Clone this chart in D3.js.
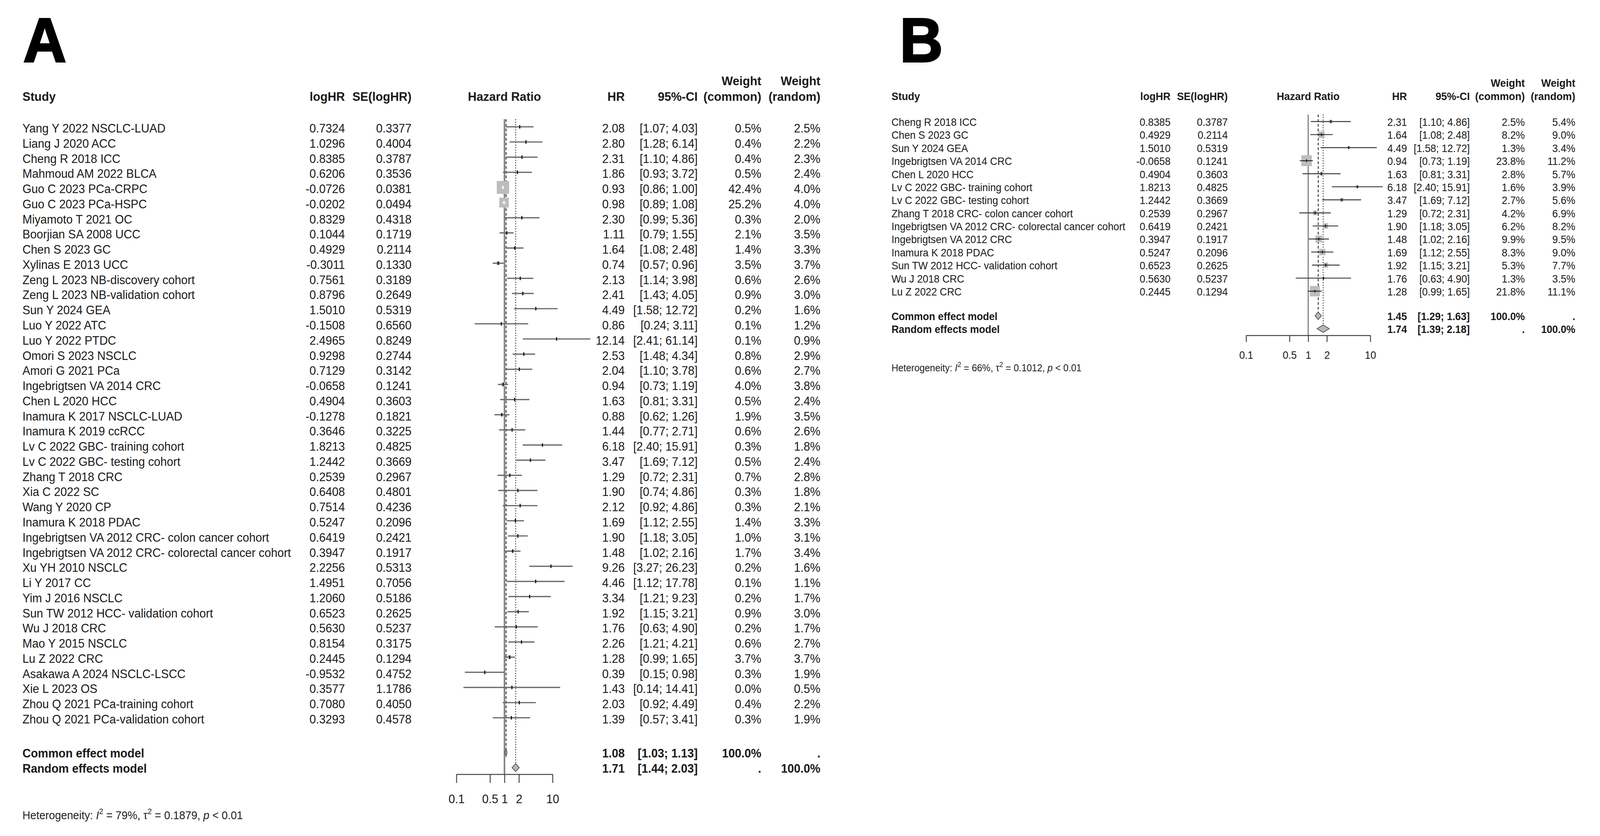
<!DOCTYPE html>
<html>
<head>
<meta charset="utf-8">
<script src="https://cdn.jsdelivr.net/npm/d3@7"></script>
<style>
  html, body { margin: 0; padding: 0; background: #fff; overflow: hidden; }
  #chart { display: block; width: 100vw; height: 100vh; }
  text { font-family: "Liberation Sans", Arial, sans-serif; }
</style>
</head>
<body>
<svg id="chart" viewBox="0 0 4277 2139" preserveAspectRatio="none"></svg>
<script>
// ---- panel A data ----
const studiesA = ["Yang Y 2022 NSCLC-LUAD", "Liang J 2020 ACC", "Cheng R 2018 ICC", "Mahmoud AM 2022 BLCA",
  "Guo C 2023 PCa-CRPC", "Guo C 2023 PCa-HSPC", "Miyamoto T 2021 OC", "Boorjian SA 2008 UCC", "Chen S 2023 GC",
  "Xylinas E 2013 UCC", "Zeng L 2023 NB-discovery cohort", "Zeng L 2023 NB-validation cohort", "Sun Y 2024 GEA",
  "Luo Y 2022 ATC", "Luo Y 2022 PTDC", "Omori S 2023 NSCLC", "Amori G 2021 PCa", "Ingebrigtsen VA 2014 CRC",
  "Chen L 2020 HCC", "Inamura K 2017 NSCLC-LUAD", "Inamura K 2019 ccRCC", "Lv C 2022 GBC- training cohort",
  "Lv C 2022 GBC- testing cohort", "Zhang T 2018 CRC", "Xia C 2022 SC", "Wang Y 2020 CP", "Inamura K 2018 PDAC",
  "Ingebrigtsen VA 2012 CRC- colon cancer cohort", "Ingebrigtsen VA 2012 CRC- colorectal cancer cohort",
  "Xu YH 2010 NSCLC", "Li Y 2017 CC", "Yim J 2016 NSCLC", "Sun TW 2012 HCC- validation cohort", "Wu J 2018 CRC",
  "Mao Y 2015 NSCLC", "Lu Z 2022 CRC", "Asakawa A 2024 NSCLC-LSCC", "Xie L 2023 OS",
  "Zhou Q 2021 PCa-training cohort", "Zhou Q 2021 PCa-validation cohort"];
const logHRA = [0.7324, 1.0296, 0.8385, 0.6206, -0.0726, -0.0202, 0.8329, 0.1044, 0.4929, -0.3011, 0.7561, 0.8796,
  1.5010, -0.1508, 2.4965, 0.9298, 0.7129, -0.0658, 0.4904, -0.1278, 0.3646, 1.8213, 1.2442, 0.2539, 0.6408,
  0.7514, 0.5247, 0.6419, 0.3947, 2.2256, 1.4951, 1.2060, 0.6523, 0.5630, 0.8154, 0.2445, -0.9532, 0.3577,
  0.7080, 0.3293];
const seA = [0.3377, 0.4004, 0.3787, 0.3536, 0.0381, 0.0494, 0.4318, 0.1719, 0.2114, 0.1330, 0.3189, 0.2649,
  0.5319, 0.6560, 0.8249, 0.2744, 0.3142, 0.1241, 0.3603, 0.1821, 0.3225, 0.4825, 0.3669, 0.2967, 0.4801,
  0.4236, 0.2096, 0.2421, 0.1917, 0.5313, 0.7056, 0.5186, 0.2625, 0.5237, 0.3175, 0.1294, 0.4752, 1.1786,
  0.4050, 0.4578];
const hrA = [2.08, 2.80, 2.31, 1.86, 0.93, 0.98, 2.30, 1.11, 1.64, 0.74, 2.13, 2.41, 4.49, 0.86, 12.14, 2.53, 2.04,
  0.94, 1.63, 0.88, 1.44, 6.18, 3.47, 1.29, 1.90, 2.12, 1.69, 1.90, 1.48, 9.26, 4.46, 3.34, 1.92, 1.76, 2.26,
  1.28, 0.39, 1.43, 2.03, 1.39];
const lowerA = [1.07, 1.28, 1.10, 0.93, 0.86, 0.89, 0.99, 0.79, 1.08, 0.57, 1.14, 1.43, 1.58, 0.24, 2.41, 1.48,
  1.10, 0.73, 0.81, 0.62, 0.77, 2.40, 1.69, 0.72, 0.74, 0.92, 1.12, 1.18, 1.02, 3.27, 1.12, 1.21, 1.15, 0.63,
  1.21, 0.99, 0.15, 0.14, 0.92, 0.57];
const upperA = [4.03, 6.14, 4.86, 3.72, 1.00, 1.08, 5.36, 1.55, 2.48, 0.96, 3.98, 4.05, 12.72, 3.11, 61.14, 4.34,
  3.78, 1.19, 3.31, 1.26, 2.71, 15.91, 7.12, 2.31, 4.86, 4.86, 2.55, 3.05, 2.16, 26.23, 17.78, 9.23, 3.21, 4.90,
  4.21, 1.65, 0.98, 14.41, 4.49, 3.41];
const wCommonA = [0.5, 0.4, 0.4, 0.5, 42.4, 25.2, 0.3, 2.1, 1.4, 3.5, 0.6, 0.9, 0.2, 0.1, 0.1, 0.8, 0.6, 4.0, 0.5,
  1.9, 0.6, 0.3, 0.5, 0.7, 0.3, 0.3, 1.4, 1.0, 1.7, 0.2, 0.1, 0.2, 0.9, 0.2, 0.6, 3.7, 0.3, 0.0, 0.4, 0.3];
const wRandomA = [2.5, 2.2, 2.3, 2.4, 4.0, 4.0, 2.0, 3.5, 3.3, 3.7, 2.6, 3.0, 1.6, 1.2, 0.9, 2.9, 2.7, 3.8, 2.4,
  3.5, 2.6, 1.8, 2.4, 2.8, 1.8, 2.1, 3.3, 3.1, 3.4, 1.6, 1.1, 1.7, 3.0, 1.7, 2.7, 3.7, 1.9, 0.5, 2.2, 1.9];
const modelHRA = [1.08, 1.71];
const modelLowerA = [1.03, 1.44];
const modelUpperA = [1.13, 2.03];
const hetA = ["79%", "0.1879", "0.01"];

// ---- panel B data ----
const studiesB = ["Cheng R 2018 ICC", "Chen S 2023 GC", "Sun Y 2024 GEA", "Ingebrigtsen VA 2014 CRC",
  "Chen L 2020 HCC", "Lv C 2022 GBC- training cohort", "Lv C 2022 GBC- testing cohort",
  "Zhang T 2018 CRC- colon cancer cohort", "Ingebrigtsen VA 2012 CRC- colorectal cancer cohort",
  "Ingebrigtsen VA 2012 CRC", "Inamura K 2018 PDAC", "Sun TW 2012 HCC- validation cohort", "Wu J 2018 CRC",
  "Lu Z 2022 CRC"];
const logHRB = [0.8385, 0.4929, 1.5010, -0.0658, 0.4904, 1.8213, 1.2442, 0.2539, 0.6419, 0.3947, 0.5247, 0.6523,
  0.5630, 0.2445];
const seB = [0.3787, 0.2114, 0.5319, 0.1241, 0.3603, 0.4825, 0.3669, 0.2967, 0.2421, 0.1917, 0.2096, 0.2625,
  0.5237, 0.1294];
const hrB = [2.31, 1.64, 4.49, 0.94, 1.63, 6.18, 3.47, 1.29, 1.90, 1.48, 1.69, 1.92, 1.76, 1.28];
const lowerB = [1.10, 1.08, 1.58, 0.73, 0.81, 2.40, 1.69, 0.72, 1.18, 1.02, 1.12, 1.15, 0.63, 0.99];
const upperB = [4.86, 2.48, 12.72, 1.19, 3.31, 15.91, 7.12, 2.31, 3.05, 2.16, 2.55, 3.21, 4.90, 1.65];
const wCommonB = [2.5, 8.2, 1.3, 23.8, 2.8, 1.6, 2.7, 4.2, 6.2, 9.9, 8.3, 5.3, 1.3, 21.8];
const wRandomB = [5.4, 9.0, 3.4, 11.2, 5.7, 3.9, 5.6, 6.9, 8.2, 9.5, 9.0, 7.7, 3.5, 11.1];
const modelHRB = [1.45, 1.74];
const modelLowerB = [1.29, 1.39];
const modelUpperB = [1.63, 2.18];
const hetB = ["66%", "0.1012", "0.01"];

const modelNames = ["Common effect model", "Random effects model"];
const modelWCommon = ["100.0%", "."];
const modelWRandom = [".", "100.0%"];
const hrTicks = [0.1, 0.5, 1, 2, 10];

const svg = d3.select("#chart");
svg.append("rect").attr("width", 4277).attr("height", 2139).attr("fill", "#fff");

function txt(g, x, y, s, size, anchor, bold) {
  return g.append("text")
    .attr("x", x).attr("y", y)
    .attr("font-size", size)
    .attr("text-anchor", anchor || "start")
    .attr("font-weight", bold ? "bold" : null)
    .attr("fill", "#1a1a1a")
    .text(s);
}

function drawPanel(d, L) {
  const g = svg.append("g");
  const n = d.studies.length;

  // panel letter
  g.append("text").attr("x", L.letterX).attr("y", 158)
    .attr("font-size", 160).attr("font-weight", "bold")
    .attr("stroke", "#000").attr("stroke-width", 4)
    .text(L.letter);

  const x = d3.scaleLog().domain([0.1, 10]).range(L.xRange);
  const y = d3.scaleLinear().domain([0, n - 1]).range([L.y0, L.yLast]);

  // headers
  const hs = L.headSize;
  txt(g, L.colStudy, L.head2, "Study", hs, "start", true);
  txt(g, L.colLog, L.head2, "logHR", hs, "end", true);
  txt(g, L.colSe, L.head2, "SE(logHR)", hs, "end", true);
  txt(g, x(1), L.head2, "Hazard Ratio", hs, "middle", true);
  txt(g, L.colHr, L.head2, "HR", hs, "end", true);
  txt(g, L.colCi, L.head2, "95%-CI", hs, "end", true);
  txt(g, L.colWc, L.head1, "Weight", hs, "end", true);
  txt(g, L.colWc, L.head2, "(common)", hs, "end", true);
  txt(g, L.colWr, L.head1, "Weight", hs, "end", true);
  txt(g, L.colWr, L.head2, "(random)", hs, "end", true);

  const fs = L.size;
  const rows = d3.range(n);
  const ci = (lo, hi) => "[" + lo.toFixed(2) + "; " + hi.toFixed(2) + "]";

  rows.forEach(i => {
    const yb = y(i);
    txt(g, L.colStudy, yb, d.studies[i], fs);
    txt(g, L.colLog, yb, d.logHR[i].toFixed(4), fs, "end");
    txt(g, L.colSe, yb, d.se[i].toFixed(4), fs, "end");
    txt(g, L.colHr, yb, d.hr[i].toFixed(2), fs, "end");
    txt(g, L.colCi, yb, ci(d.lower[i], d.upper[i]), fs, "end");
    txt(g, L.colWc, yb, d.wCommon[i].toFixed(1) + "%", fs, "end");
    txt(g, L.colWr, yb, d.wRandom[i].toFixed(1) + "%", fs, "end");
  });

  // summary rows
  const yModel = [L.yCommon, L.yRandom];
  [0, 1].forEach(k => {
    const yb = yModel[k];
    txt(g, L.colStudy, yb, modelNames[k], fs, "start", true);
    txt(g, L.colHr, yb, d.mHr[k].toFixed(2), fs, "end", true);
    txt(g, L.colCi, yb, ci(d.mLower[k], d.mUpper[k]), fs, "end", true);
    txt(g, L.colWc, yb, modelWCommon[k], fs, "end", true);
    txt(g, L.colWr, yb, modelWRandom[k], fs, "end", true);
  });

  // reference lines: null effect (solid), common (dashed), random (dotted)
  g.append("line").attr("x1", x(1)).attr("x2", x(1))
    .attr("y1", L.lineTop).attr("y2", L.axisY)
    .attr("stroke", "#7d7d7d").attr("stroke-width", L.nullW);
  g.append("line").attr("x1", x(d.mHr[0])).attr("x2", x(d.mHr[0]))
    .attr("y1", L.lineTop).attr("y2", L.yCommon - L.offM)
    .attr("stroke", "#222").attr("stroke-width", 2.2).attr("stroke-dasharray", "7,5");
  g.append("line").attr("x1", x(d.mHr[1])).attr("x2", x(d.mHr[1]))
    .attr("y1", L.lineTop).attr("y2", L.yRandom - L.offM)
    .attr("stroke", "#222").attr("stroke-width", 2.2).attr("stroke-dasharray", "2.5,4");

  // study marks
  const wMax = d3.max(d.wCommon);
  const marks = g.append("g");
  rows.forEach(i => {
    const yc = y(i) - L.off;
    const cx = x(d.hr[i]);
    const side = L.sqMax * Math.sqrt(d.wCommon[i] / wMax);
    marks.append("rect")
      .attr("x", cx - side / 2).attr("y", yc - side / 2)
      .attr("width", side).attr("height", side)
      .attr("fill", "#bdbdbd");
    marks.append("line")
      .attr("x1", x(d.lower[i])).attr("x2", x(d.upper[i]))
      .attr("y1", yc).attr("y2", yc)
      .attr("stroke", L.ciCol).attr("stroke-width", L.lw);
    const big = side > L.tick + 6;
    if (big) {
      // line inside a large square
      marks.append("line")
        .attr("x1", Math.max(x(d.lower[i]), cx - side / 2)).attr("x2", Math.min(x(d.upper[i]), cx + side / 2))
        .attr("y1", yc).attr("y2", yc)
        .attr("stroke", L.inside).attr("stroke-width", L.lw * 0.8);
    }
    marks.append("line")
      .attr("x1", cx).attr("x2", cx)
      .attr("y1", yc - L.tick / 2).attr("y2", yc + L.tick / 2)
      .attr("stroke", big ? L.inside : "#111").attr("stroke-width", L.tickW);
  });

  // summary diamonds
  [0, 1].forEach(k => {
    const yc = yModel[k] - L.offM;
    const pts = [[x(d.mLower[k]), yc], [x(d.mHr[k]), yc - L.dia], [x(d.mUpper[k]), yc], [x(d.mHr[k]), yc + L.dia]];
    g.append("path").attr("d", d3.line()(pts) + "Z")
      .attr("fill", "#b8b8b8").attr("stroke", "#555").attr("stroke-width", 2);
  });

  // axis
  const axis = d3.axisBottom(x)
    .tickValues(hrTicks)
    .tickFormat(v => String(v))
    .tickSize(L.tickLen)
    .tickSizeOuter(0)
    .tickPadding(L.tickPad);
  const ax = g.append("g").attr("transform", "translate(0," + L.axisY + ")").call(axis);
  ax.attr("font-family", null);
  ax.select(".domain").attr("stroke", "#444").attr("stroke-width", 2.5);
  ax.selectAll(".tick line").attr("stroke", "#444").attr("stroke-width", 2.5);
  ax.selectAll(".tick text").attr("font-size", L.size).attr("fill", "#1a1a1a");

  // heterogeneity
  const hz = L.hetSize;
  const t = g.append("text").attr("x", L.colStudy).attr("y", L.hetY)
    .attr("font-size", hz).attr("fill", "#222");
  t.append("tspan").text("Heterogeneity: ");
  t.append("tspan").attr("font-style", "italic").text("I");
  t.append("tspan").attr("font-size", hz * 0.7).attr("dy", -hz * 0.45).text("2");
  t.append("tspan").attr("dy", hz * 0.45).text(" = " + d.het[0] + ", \u03c4");
  t.append("tspan").attr("font-size", hz * 0.7).attr("dy", -hz * 0.45).text("2");
  t.append("tspan").attr("dy", hz * 0.45).text(" = " + d.het[1] + ", ");
  t.append("tspan").attr("font-style", "italic").text("p");
  t.append("tspan").text(" < " + d.het[2]);
}

drawPanel(
  { studies: studiesA, logHR: logHRA, se: seA, hr: hrA, lower: lowerA, upper: upperA,
    wCommon: wCommonA, wRandom: wRandomA, mHr: modelHRA, mLower: modelLowerA, mUpper: modelUpperA, het: hetA },
  { letter: "A", letterX: 62, head1: 218, head2: 258, y0: 339, yLast: 1851, yCommon: 1938, yRandom: 1977,
    colStudy: 60, colLog: 922, colSe: 1100, xRange: [1220, 1477], colHr: 1670, colCi: 1865, colWc: 2035,
    colWr: 2193, axisY: 1981, tickLen: 22, tickPad: 30, hetY: 2096, size: 31, headSize: 32, hetSize: 29,
    sqMax: 33, tick: 9, tickW: 3, lineTop: 305, off: 14.5, offM: 13, dia: 10, lw: 3.2, ciCol: "#6a6a6a",
    inside: "#ffffff", nullW: 4 });

drawPanel(
  { studies: studiesB, logHR: logHRB, se: seB, hr: hrB, lower: lowerB, upper: upperB,
    wCommon: wCommonB, wRandom: wRandomB, mHr: modelHRB, mLower: modelLowerB, mUpper: modelUpperB, het: hetB },
  { letter: "B", letterX: 2405, head1: 222, head2: 256, y0: 322, yLast: 756, yCommon: 819, yRandom: 852,
    colStudy: 2383, colLog: 3129, colSe: 3282, xRange: [3331, 3663], colHr: 3761, colCi: 3929, colWc: 4076,
    colWr: 4211, axisY: 858, tickLen: 17, tickPad: 24, hetY: 950, size: 27, headSize: 27.5, hetSize: 25,
    sqMax: 28, tick: 7.5, tickW: 2.6, lineTop: 293, off: 11, offM: 11, dia: 9.6, lw: 2.4, ciCol: "#3a3a3a",
    inside: "#222222", nullW: 3 });
</script>
</body>
</html>
